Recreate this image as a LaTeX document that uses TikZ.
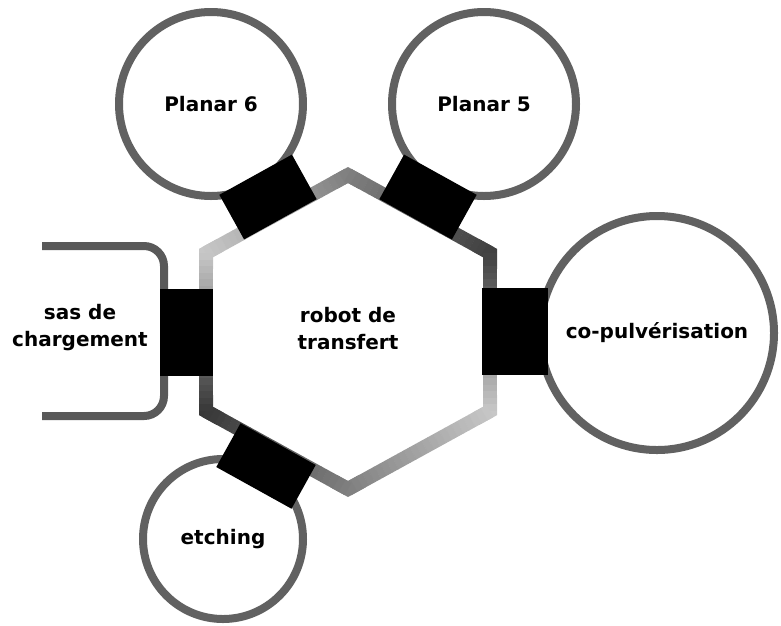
\documentclass[tikz,border=0pt]{standalone}
\usepackage{fontspec}
\setmainfont{DejaVu Sans}
\usetikzlibrary{calc}

\begin{document}
\begin{tikzpicture}[x=1pt,y=-1pt,
                chamber/.style={circle, draw=black!62, line width=8pt, fill=white, inner sep=0pt},
                port/.style={fill=black, inner sep=0pt},
                wall/.style={line width=14pt},
                lock/.style={draw=black!65, line width=8pt, rounded corners=20pt},
                every node/.style={font=\bfseries\fontsize{20}{27}\selectfont, align=center}]

  \useasboundingbox (0,0) rectangle (781,625);

  % chambers
  \node[chamber, minimum size=184pt] (planar6) at (211,104) {Planar 6};
  \node[chamber, minimum size=184pt] (planar5) at (484,104) {Planar 5};
  \node[chamber, minimum size=234pt] (copulv) at (657,333) {co-pulvérisation};
  \node[chamber, minimum size=160pt] (etching) at (223,539) {etching};

  % load lock
  \coordinate (lockT) at (42,246);
  \coordinate (lockB) at (42,416);
  \draw[lock] (lockT) -- (164,246) -- (164,416) -- (lockB);
  \node (sas) at (80,328) {sas de\\chargement};

  % transfer chamber
  \coordinate (UL) at (206,253);
  \coordinate (T) at (348,175);
  \coordinate (UR) at (490,253);
  \coordinate (LR) at (490,411);
  \coordinate (B) at (348,489);
  \coordinate (LL) at (206,411);
  \fill[white] (UL) -- (T) -- (UR) -- (LR) -- (B) -- (LL) -- cycle;
  \foreach \p/\v/\n/\c in {LL/UL/T/22, UL/T/UR/50, T/UR/LR/75, UR/LR/B/22, LR/B/LL/50, B/LL/UL/78}
    \draw[wall, line join=miter, black!\c] ($(\v)!0.1!(\p)$) -- (\v) -- ($(\v)!0.1!(\n)$);
  \foreach \a/\b/\ca/\cb in {UL/T/22/50, T/UR/50/75, UR/LR/75/22, LR/B/22/50, B/LL/50/78, LL/UL/78/22}
    \foreach \i in {0,...,23} {
      \pgfmathsetmacro\s{\i/24}
      \pgfmathsetmacro\e{(\i+1.05)/24}
      \pgfmathsetmacro\g{\ca+(\cb-\ca)*(\i+0.5)/24}
      \draw[wall, black!\g] ($(\a)!\s!(\b)$) -- ($(\a)!\e!(\b)$);
    }
  \node (robot) at (348,329) {robot de\\transfert};

  % ports
  \node[port, minimum width=53pt, minimum height=87pt] (portsas) at (186.5,332.5) {};
  \node[port, minimum width=66pt, minimum height=87pt] (portcopulv) at (515,331.5) {};
  \node[port, minimum width=83pt, minimum height=51pt, rotate=29] (portp6) at (268,197) {};
  \node[port, minimum width=83pt, minimum height=51pt, rotate=-29] (portp5) at (428,197) {};
  \node[port, minimum width=86pt, minimum height=50pt, rotate=-29] (portetch) at (266,466) {};
\end{tikzpicture}
\end{document}
